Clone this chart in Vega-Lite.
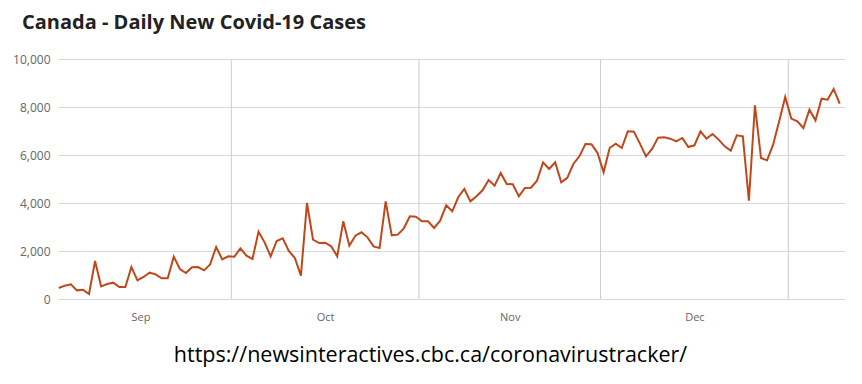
{
  "$schema": "https://vega.github.io/schema/vega-lite/v6.json",
  "width": 787,
  "height": 240,
  "autosize": {"type": "none"},
  "padding": {"left": 58, "top": 59, "right": 17, "bottom": 85},
  "background": "white",
  "config": {"view": {"stroke": null}, "font": "Open Sans"},
  "title": {
    "text": "Canada - Daily New Covid-19 Cases",
    "anchor": "start",
    "frame": "group",
    "dx": -36,
    "offset": 20,
    "fontSize": 20,
    "font": "Open Sans",
    "fontWeight": "bold",
    "color": "#222222"
  },
  "datasets": {
    "grid": [
      {"date": "2020-10-01T00:00:00"},
      {"date": "2020-11-01T00:00:00"},
      {"date": "2020-12-01T00:00:00"},
      {"date": "2021-01-01T00:00:00"}
    ],
    "cases": [
      {"date": "2020-09-02T12:00:00", "cases": 458},
      {"date": "2020-09-03T12:00:00", "cases": 556},
      {"date": "2020-09-04T12:00:00", "cases": 611},
      {"date": "2020-09-05T12:00:00", "cases": 361},
      {"date": "2020-09-06T12:00:00", "cases": 389},
      {"date": "2020-09-07T12:00:00", "cases": 208},
      {"date": "2020-09-08T12:00:00", "cases": 1583},
      {"date": "2020-09-09T12:00:00", "cases": 528},
      {"date": "2020-09-10T12:00:00", "cases": 625},
      {"date": "2020-09-11T12:00:00", "cases": 680},
      {"date": "2020-09-12T12:00:00", "cases": 500},
      {"date": "2020-09-13T12:00:00", "cases": 500},
      {"date": "2020-09-14T12:00:00", "cases": 1333},
      {"date": "2020-09-15T12:00:00", "cases": 778},
      {"date": "2020-09-16T12:00:00", "cases": 917},
      {"date": "2020-09-17T12:00:00", "cases": 1097},
      {"date": "2020-09-18T12:00:00", "cases": 1028},
      {"date": "2020-09-19T12:00:00", "cases": 861},
      {"date": "2020-09-20T12:00:00", "cases": 861},
      {"date": "2020-09-21T12:00:00", "cases": 1764},
      {"date": "2020-09-22T12:00:00", "cases": 1250},
      {"date": "2020-09-23T12:00:00", "cases": 1083},
      {"date": "2020-09-24T12:00:00", "cases": 1319},
      {"date": "2020-09-25T12:00:00", "cases": 1333},
      {"date": "2020-09-26T12:00:00", "cases": 1194},
      {"date": "2020-09-27T12:00:00", "cases": 1444},
      {"date": "2020-09-28T12:00:00", "cases": 2167},
      {"date": "2020-09-29T12:00:00", "cases": 1653},
      {"date": "2020-09-30T12:00:00", "cases": 1778},
      {"date": "2020-10-01T12:00:00", "cases": 1764},
      {"date": "2020-10-02T12:00:00", "cases": 2111},
      {"date": "2020-10-03T12:00:00", "cases": 1806},
      {"date": "2020-10-04T12:00:00", "cases": 1667},
      {"date": "2020-10-05T12:00:00", "cases": 2806},
      {"date": "2020-10-06T12:00:00", "cases": 2361},
      {"date": "2020-10-07T12:00:00", "cases": 1778},
      {"date": "2020-10-08T12:00:00", "cases": 2417},
      {"date": "2020-10-09T12:00:00", "cases": 2528},
      {"date": "2020-10-10T12:00:00", "cases": 2000},
      {"date": "2020-10-11T12:00:00", "cases": 1708},
      {"date": "2020-10-12T12:00:00", "cases": 972},
      {"date": "2020-10-13T12:00:00", "cases": 4000},
      {"date": "2020-10-14T12:00:00", "cases": 2472},
      {"date": "2020-10-15T12:00:00", "cases": 2333},
      {"date": "2020-10-16T12:00:00", "cases": 2347},
      {"date": "2020-10-17T12:00:00", "cases": 2194},
      {"date": "2020-10-18T12:00:00", "cases": 1778},
      {"date": "2020-10-19T12:00:00", "cases": 3236},
      {"date": "2020-10-20T12:00:00", "cases": 2222},
      {"date": "2020-10-21T12:00:00", "cases": 2639},
      {"date": "2020-10-22T12:00:00", "cases": 2778},
      {"date": "2020-10-23T12:00:00", "cases": 2570},
      {"date": "2020-10-24T12:00:00", "cases": 2194},
      {"date": "2020-10-25T12:00:00", "cases": 2125},
      {"date": "2020-10-26T12:00:00", "cases": 4070},
      {"date": "2020-10-27T12:00:00", "cases": 2653},
      {"date": "2020-10-28T12:00:00", "cases": 2681},
      {"date": "2020-10-29T12:00:00", "cases": 2945},
      {"date": "2020-10-30T12:00:00", "cases": 3445},
      {"date": "2020-10-31T12:00:00", "cases": 3431},
      {"date": "2020-11-01T12:00:00", "cases": 3236},
      {"date": "2020-11-02T12:00:00", "cases": 3236},
      {"date": "2020-11-03T12:00:00", "cases": 2958},
      {"date": "2020-11-04T12:00:00", "cases": 3264},
      {"date": "2020-11-05T12:00:00", "cases": 3903},
      {"date": "2020-11-06T12:00:00", "cases": 3653},
      {"date": "2020-11-07T12:00:00", "cases": 4250},
      {"date": "2020-11-08T12:00:00", "cases": 4584},
      {"date": "2020-11-09T12:00:00", "cases": 4070},
      {"date": "2020-11-10T12:00:00", "cases": 4278},
      {"date": "2020-11-11T12:00:00", "cases": 4528},
      {"date": "2020-11-12T12:00:00", "cases": 4959},
      {"date": "2020-11-13T12:00:00", "cases": 4723},
      {"date": "2020-11-14T12:00:00", "cases": 5250},
      {"date": "2020-11-15T12:00:00", "cases": 4792},
      {"date": "2020-11-16T12:00:00", "cases": 4778},
      {"date": "2020-11-17T12:00:00", "cases": 4278},
      {"date": "2020-11-18T12:00:00", "cases": 4625},
      {"date": "2020-11-19T12:00:00", "cases": 4639},
      {"date": "2020-11-20T12:00:00", "cases": 4931},
      {"date": "2020-11-21T12:00:00", "cases": 5695},
      {"date": "2020-11-22T12:00:00", "cases": 5417},
      {"date": "2020-11-23T12:00:00", "cases": 5695},
      {"date": "2020-11-24T12:00:00", "cases": 4861},
      {"date": "2020-11-25T12:00:00", "cases": 5050},
      {"date": "2020-11-26T12:00:00", "cases": 5625},
      {"date": "2020-11-27T12:00:00", "cases": 5945},
      {"date": "2020-11-28T12:00:00", "cases": 6459},
      {"date": "2020-11-29T12:00:00", "cases": 6445},
      {"date": "2020-11-30T12:00:00", "cases": 6084},
      {"date": "2020-12-01T12:00:00", "cases": 5278},
      {"date": "2020-12-02T12:00:00", "cases": 6292},
      {"date": "2020-12-03T12:00:00", "cases": 6473},
      {"date": "2020-12-04T12:00:00", "cases": 6292},
      {"date": "2020-12-05T12:00:00", "cases": 6987},
      {"date": "2020-12-06T12:00:00", "cases": 6973},
      {"date": "2020-12-07T12:00:00", "cases": 6473},
      {"date": "2020-12-08T12:00:00", "cases": 5945},
      {"date": "2020-12-09T12:00:00", "cases": 6250},
      {"date": "2020-12-10T12:00:00", "cases": 6723},
      {"date": "2020-12-11T12:00:00", "cases": 6737},
      {"date": "2020-12-12T12:00:00", "cases": 6681},
      {"date": "2020-12-13T12:00:00", "cases": 6570},
      {"date": "2020-12-14T12:00:00", "cases": 6709},
      {"date": "2020-12-15T12:00:00", "cases": 6334},
      {"date": "2020-12-16T12:00:00", "cases": 6403},
      {"date": "2020-12-17T12:00:00", "cases": 6987},
      {"date": "2020-12-18T12:00:00", "cases": 6681},
      {"date": "2020-12-19T12:00:00", "cases": 6876},
      {"date": "2020-12-20T12:00:00", "cases": 6640},
      {"date": "2020-12-21T12:00:00", "cases": 6362},
      {"date": "2020-12-22T12:00:00", "cases": 6181},
      {"date": "2020-12-23T12:00:00", "cases": 6820},
      {"date": "2020-12-24T12:00:00", "cases": 6778},
      {"date": "2020-12-25T12:00:00", "cases": 4098},
      {"date": "2020-12-26T12:00:00", "cases": 8070},
      {"date": "2020-12-27T12:00:00", "cases": 5875},
      {"date": "2020-12-28T12:00:00", "cases": 5778},
      {"date": "2020-12-29T12:00:00", "cases": 6431},
      {"date": "2020-12-30T12:00:00", "cases": 7404},
      {"date": "2020-12-31T12:00:00", "cases": 8417},
      {"date": "2021-01-01T12:00:00", "cases": 7515},
      {"date": "2021-01-02T12:00:00", "cases": 7404},
      {"date": "2021-01-03T12:00:00", "cases": 7126},
      {"date": "2021-01-04T12:00:00", "cases": 7890},
      {"date": "2021-01-05T12:00:00", "cases": 7445},
      {"date": "2021-01-06T12:00:00", "cases": 8348},
      {"date": "2021-01-07T12:00:00", "cases": 8306},
      {"date": "2021-01-08T12:00:00", "cases": 8751},
      {"date": "2021-01-09T12:00:00", "cases": 8140}
    ]
  },
  "layer": [
    {
      "data": {"name": "grid"},
      "mark": {"type": "rule", "color": "#cccccc", "strokeWidth": 1},
      "encoding": {
        "x": {"field": "date", "type": "temporal"}
      }
    },
    {
      "data": {"name": "cases"},
      "mark": {"type": "line", "color": "#c0471a", "strokeWidth": 2, "strokeJoin": "miter"},
      "encoding": {
        "x": {
          "field": "date",
          "type": "temporal",
          "scale": {
            "domain": [
              {"year": 2020, "month": 9, "date": 2, "hours": 9},
              {"year": 2021, "month": 1, "date": 10, "hours": 9}
            ]
          },
          "axis": {
            "values": [
              {"year": 2020, "month": 9, "date": 16},
              {"year": 2020, "month": 10, "date": 16, "hours": 12},
              {"year": 2020, "month": 11, "date": 16},
              {"year": 2020, "month": 12, "date": 16, "hours": 12}
            ],
            "format": "%b",
            "grid": false,
            "ticks": false,
            "domain": false,
            "labelColor": "#666666",
            "labelFontSize": 11,
            "labelFont": "Open Sans",
            "labelPadding": 12,
            "title": "https://newsinteractives.cbc.ca/coronavirustracker/",
            "titleFont": "Open Sans",
            "titleFontSize": 21.5,
            "titleFontWeight": "normal",
            "titleColor": "#000000",
            "titleX": 372,
            "titleAlign": "center",
            "titlePadding": 22
          }
        },
        "y": {
          "field": "cases",
          "type": "quantitative",
          "scale": {"domain": [0, 10000]},
          "axis": {
            "values": [0, 2000, 4000, 6000, 8000, 10000],
            "format": ",d",
            "title": null,
            "ticks": false,
            "domain": false,
            "grid": true,
            "gridColor": "#d9d9d9",
            "labelColor": "#666666",
            "labelFontSize": 12,
            "labelFont": "Open Sans",
            "labelPadding": 8
          }
        }
      }
    }
  ]
}
